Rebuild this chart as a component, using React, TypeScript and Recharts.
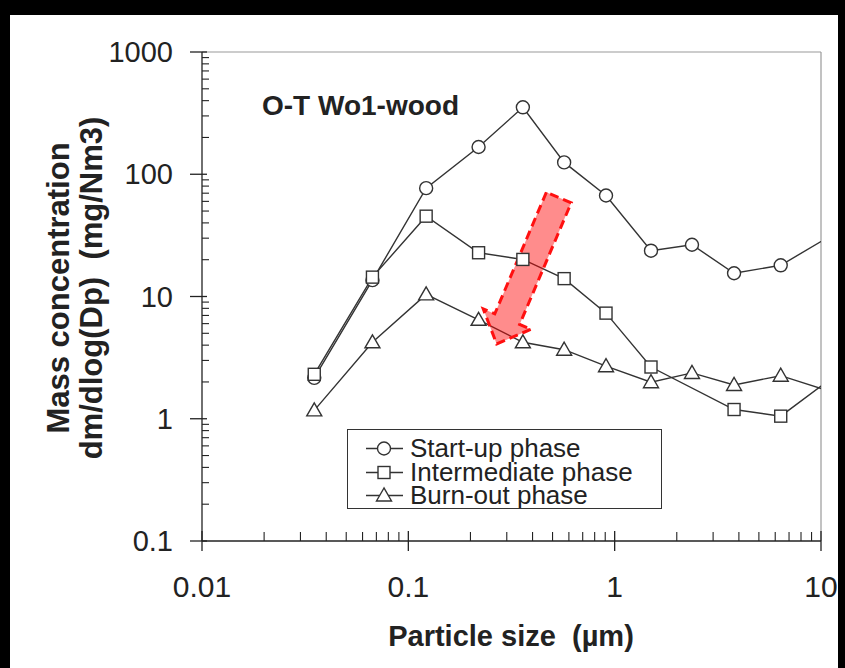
import React from 'react';
import { LineChart, Line, XAxis, YAxis, Legend, ReferenceLine, Customized } from 'recharts';

// particle size (µm); last point lies past the 10 µm edge
const sizes = [0.035, 0.067, 0.122, 0.219, 0.359, 0.569, 0.908, 1.5, 2.37, 3.79, 6.38, 12];
const startup = [2.16, 13.6, 77, 167, 353, 125, 67, 23.7, 26.5, 15.5, 18.0, 33.8];
const intermediate = [2.31, 14.4, 45.4, 22.8, 20.1, 14.0, 7.31, 2.65, null, 1.19, 1.05, 2.32];
const burnout = [1.17, 4.22, 10.4, 6.45, 4.22, 3.67, 2.69, 1.99, 2.37, 1.89, 2.25, 1.6];

const xMajor = [0.01, 0.1, 1, 10];
const xMinor = [0.02, 0.03, 0.04, 0.05, 0.06, 0.07, 0.08, 0.09, 0.2, 0.3, 0.4, 0.5, 0.6, 0.7, 0.8, 0.9, 2, 3, 4, 5, 6, 7, 8, 9];
const yMajor = [0.1, 1, 10, 100, 1000];
const yMinor = [0.2, 0.3, 0.4, 0.5, 0.6, 0.7, 0.8, 0.9, 2, 3, 4, 5, 6, 7, 8, 9, 20, 30, 40, 50, 60, 70, 80, 90, 200, 300, 400, 500, 600, 700, 800, 900];

// red annotation arrow, from (size, conc) to (size, conc)
const arrowFrom = { x: 0.536, y: 64.5 };
const arrowTo = { x: 0.268, y: 4.09 };

const seriesNames = ['Start-up phase', 'Intermediate phase', 'Burn-out phase'];

const data = sizes.map((s, i) => ({
  size: s,
  startup: startup[i],
  intermediate: intermediate[i],
  burnout: burnout[i],
}));

const FONT = '"Liberation Sans", Arial, Helvetica, sans-serif';
const INK = '#222';
const LINE = '#333';

const marker = (kind: string, cx: number, cy: number, key?: string) => {
  if (kind === 'circle') return <circle key={key} cx={cx} cy={cy} r={6.5} fill="#fff" stroke={LINE} strokeWidth={1.4} />;
  if (kind === 'square') return <rect key={key} x={cx - 6} y={cy - 6} width={12} height={12} fill="#fff" stroke={LINE} strokeWidth={1.4} />;
  return (
    <polygon
      key={key}
      points={`${cx},${cy - 7.5} ${cx - 7.5},${cy + 5.5} ${cx + 7.5},${cy + 5.5}`}
      fill="#fff"
      stroke={LINE}
      strokeWidth={1.4}
    />
  );
};

const dotOf = (kind: string) => (p: any) => {
  if (p.cy == null || p.cx == null) return <g key={`n-${kind}-${p.index}`} />;
  return marker(kind, p.cx, p.cy, `d-${kind}-${p.index}`);
};

const XTick = (props: any) => {
  const { x, y, payload } = props;
  const v = payload.value;
  if (xMajor.includes(v)) {
    return (
      <g>
        <line x1={x} x2={x} y1={y - 10} y2={y + 10} stroke={INK} strokeWidth={1.3} />
        <text x={x} y={y + 56} textAnchor="middle" fontSize={30} fontFamily={FONT} fill={INK}>
          {String(v)}
        </text>
      </g>
    );
  }
  return <line x1={x} x2={x} y1={y - 9} y2={y} stroke={INK} strokeWidth={1.1} />;
};

const YTick = (props: any) => {
  const { x, y, payload } = props;
  const v = payload.value;
  if (yMajor.includes(v)) {
    return (
      <g>
        <line x1={x - 12} x2={x + 5} y1={y} y2={y} stroke={INK} strokeWidth={1.3} />
        <text x={x - 29} y={y + 10} textAnchor="end" fontSize={29} fontFamily={FONT} fill={INK}>
          {String(v)}
        </text>
      </g>
    );
  }
  return <line x1={x} x2={x + 7} y1={y} y2={y} stroke={INK} strokeWidth={1.1} />;
};

const ArrowShape = (props: any) => {
  const { x1, y1, x2, y2 } = props;
  const dx = x2 - x1;
  const dy = y2 - y1;
  const len = Math.sqrt(dx * dx + dy * dy);
  const ux = dx / len;
  const uy = dy / len;
  const nx = -uy;
  const ny = ux;
  const shaft = 13.5;
  const head = 26;
  const headLen = 27;
  const bx = x2 - ux * headLen;
  const by = y2 - uy * headLen;
  const pts = [
    [x1 + nx * shaft, y1 + ny * shaft],
    [bx + nx * shaft, by + ny * shaft],
    [bx + nx * head, by + ny * head],
    [x2, y2],
    [bx - nx * head, by - ny * head],
    [bx - nx * shaft, by - ny * shaft],
    [x1 - nx * shaft, y1 - ny * shaft],
  ]
    .map((p) => `${p[0]},${p[1]}`)
    .join(' ');
  return (
    <polygon
      points={pts}
      fill="#ff0000"
      fillOpacity={0.45}
      stroke="#ff1010"
      strokeWidth={3}
      strokeDasharray="9 5"
      strokeLinejoin="miter"
    />
  );
};

const TextLayer = () => (
  <g fontFamily={FONT} fill={INK}>
    <text x={262} y={115} fontSize={28} fontWeight="bold">
      O-T Wo1-wood
    </text>
    <text x={511} y={646} fontSize={29} fontWeight="bold" textAnchor="middle" style={{ whiteSpace: 'pre' }}>
      {'Particle size  (µm)'}
    </text>
    <text
      transform="translate(58,288) rotate(-90)"
      fontSize={31}
      fontWeight="bold"
      textAnchor="middle"
      dominantBaseline="central"
    >
      Mass concentration
    </text>
    <text
      transform="translate(91,288) rotate(-90)"
      fontSize={31}
      fontWeight="bold"
      textAnchor="middle"
      dominantBaseline="central"
      style={{ whiteSpace: 'pre' }}
    >
      {'dm/dlog(Dp)  (mg/Nm3)'}
    </text>
  </g>
);

const kinds = ['circle', 'square', 'triangle'];

const LegendBox = () => (
  <div
    style={{
      width: 315,
      height: 80,
      boxSizing: 'border-box',
      border: '1.5px solid #333',
      background: '#fff',
      fontFamily: FONT,
      fontSize: 26,
      color: INK,
      paddingTop: 7,
      overflow: 'hidden',
    }}
  >
    {seriesNames.map((name, i) => (
      <div key={name} style={{ display: 'flex', alignItems: 'center', height: 23.5, paddingLeft: 16 }}>
        <svg width={42} height={23} style={{ flex: 'none' }}>
          <line x1={2} x2={39} y1={11.5} y2={11.5} stroke={LINE} strokeWidth={1.4} />
          {marker(kinds[i], 20, 11.5)}
        </svg>
        <span style={{ marginLeft: 4, lineHeight: '23.5px', whiteSpace: 'nowrap' }}>{name}</span>
      </div>
    ))}
  </div>
);

export default function App() {
  return (
    <div style={{ position: 'fixed', left: 0, top: 0, width: 845, height: 668, background: '#000' }}>
      <div style={{ position: 'absolute', left: 10, top: 15, width: 828, height: 653, background: '#fff' }} />
      <div style={{ position: 'absolute', left: 0, top: 0 }}>
        <LineChart width={845} height={668} data={data} margin={{ top: 52, right: 24, bottom: 0, left: 0 }}>
          <XAxis
            dataKey="size"
            type="number"
            scale="log"
            domain={[0.01, 10]}
            allowDataOverflow
            ticks={[...xMajor, ...xMinor]}
            interval={0}
            tick={<XTick />}
            tickLine={false}
            tickSize={0}
            tickMargin={0}
            height={127}
            axisLine={{ stroke: INK, strokeWidth: 1.3 }}
          />
          <YAxis
            type="number"
            scale="log"
            domain={[0.1, 1000]}
            allowDataOverflow
            ticks={[...yMajor, ...yMinor]}
            interval={0}
            tick={<YTick />}
            tickLine={false}
            tickSize={0}
            tickMargin={0}
            width={202}
            axisLine={{ stroke: INK, strokeWidth: 1.3 }}
          />
          <ReferenceLine y={1000} stroke="#999" strokeWidth={1.2} />
          <ReferenceLine x={10} stroke="#999" strokeWidth={1.2} />
          <Line
            dataKey="startup"
            name={seriesNames[0]}
            stroke={LINE}
            strokeWidth={1.4}
            dot={dotOf('circle')}
            isAnimationActive={false}
          />
          <Line
            dataKey="intermediate"
            name={seriesNames[1]}
            stroke={LINE}
            strokeWidth={1.4}
            connectNulls
            dot={dotOf('square')}
            isAnimationActive={false}
          />
          <Line
            dataKey="burnout"
            name={seriesNames[2]}
            stroke={LINE}
            strokeWidth={1.4}
            dot={dotOf('triangle')}
            isAnimationActive={false}
          />
          <ReferenceLine
            segment={[arrowFrom, arrowTo]}
            ifOverflow="visible"
            shape={(p: any) => <ArrowShape {...p} />}
          />
          <Legend
            layout="vertical"
            align="center"
            verticalAlign="middle"
            content={<LegendBox />}
            wrapperStyle={{ left: 347, top: 429, width: 315, height: 80 }}
          />
          <Customized component={TextLayer} />
        </LineChart>
      </div>
    </div>
  );
}
